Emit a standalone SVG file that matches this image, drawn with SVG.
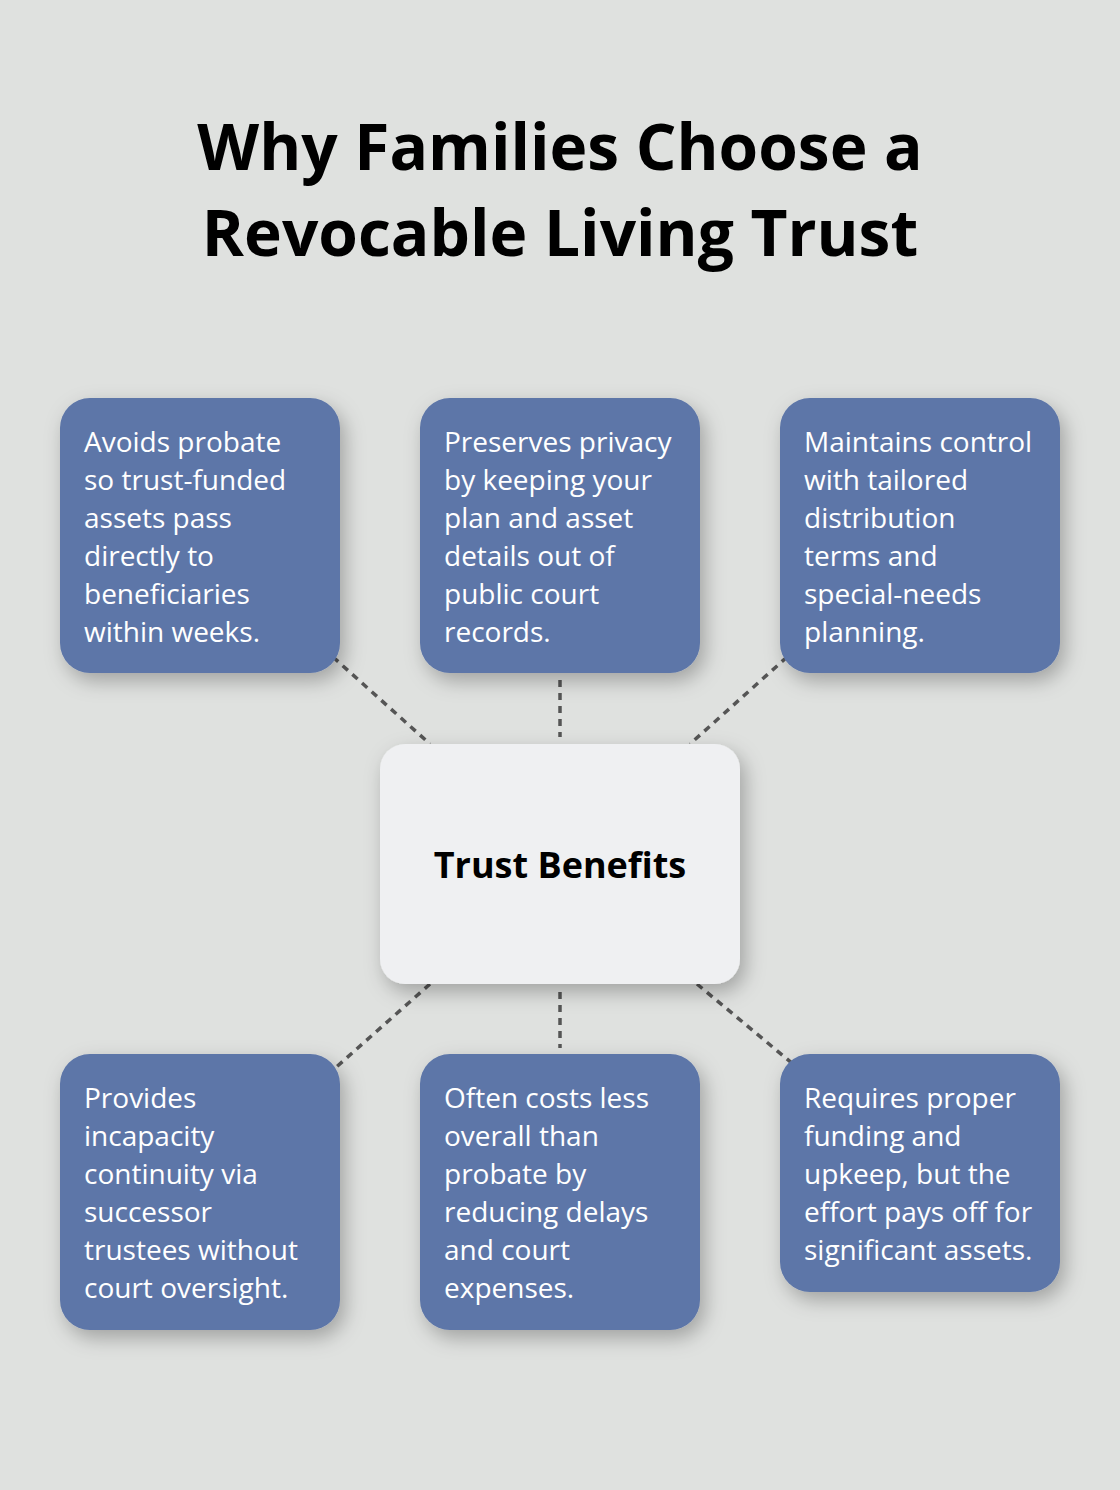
<svg xmlns="http://www.w3.org/2000/svg" width="1120" height="1490" viewBox="0 0 1120 1490">
<style>
.box{fill:#5d76a8;filter:url(#sh)}
.center{fill:#eff0f2;filter:url(#sh)}
.t{font-family:"Open Sans","Noto Sans",sans-serif;font-size:28px;fill:#ffffff}
.title{font-family:"Open Sans","Noto Sans",sans-serif;font-size:64px;font-weight:bold;fill:#000;text-anchor:middle}
.ct{font-family:"Open Sans","Noto Sans",sans-serif;font-size:36px;font-weight:bold;fill:#000;text-anchor:middle}
.con{stroke:#555;stroke-width:3.5;stroke-dasharray:7 6;fill:none}
</style>
<defs>
<filter id="sh" x="-25%" y="-25%" width="160%" height="160%">
<feDropShadow dx="5" dy="8" stdDeviation="10" flood-color="#000" flood-opacity="0.28"/>
</filter>
</defs>
<rect width="1120" height="1490" fill="#dfe1df"/>
<text class="title" x="560" y="170">Why Families Choose a</text>
<text class="title" x="560" y="256">Revocable Living Trust</text>
<g id="connectors">
<line class="con" x1="333" y1="657" x2="430" y2="744"/>
<line class="con" x1="560" y1="680" x2="560" y2="737"/>
<line class="con" x1="787" y1="657" x2="690" y2="744"/>
<line class="con" x1="430" y1="984" x2="333" y2="1070"/>
<line class="con" x1="560" y1="992" x2="560" y2="1048"/>
<line class="con" x1="697" y1="984" x2="793" y2="1064"/>
</g>
<g id="n1">
<rect class="box" x="60" y="398" width="280" height="275" rx="30"/>
<text class="t" x="84" y="452">Avoids probate</text>
<text class="t" x="84" y="490">so trust-funded</text>
<text class="t" x="84" y="528">assets pass</text>
<text class="t" x="84" y="566">directly to</text>
<text class="t" x="84" y="604">beneficiaries</text>
<text class="t" x="84" y="642">within weeks.</text>
</g>
<g id="n2">
<rect class="box" x="420" y="398" width="280" height="275" rx="30"/>
<text class="t" x="444" y="452">Preserves privacy</text>
<text class="t" x="444" y="490">by keeping your</text>
<text class="t" x="444" y="528">plan and asset</text>
<text class="t" x="444" y="566">details out of</text>
<text class="t" x="444" y="604">public court</text>
<text class="t" x="444" y="642">records.</text>
</g>
<g id="n3">
<rect class="box" x="780" y="398" width="280" height="275" rx="30"/>
<text class="t" x="804" y="452">Maintains control</text>
<text class="t" x="804" y="490">with tailored</text>
<text class="t" x="804" y="528">distribution</text>
<text class="t" x="804" y="566">terms and</text>
<text class="t" x="804" y="604">special-needs</text>
<text class="t" x="804" y="642">planning.</text>
</g>
<g id="center">
<rect class="center" x="380" y="744" width="360" height="240" rx="25"/>
<text class="ct" x="560" y="878">Trust Benefits</text>
</g>
<g id="n4">
<rect class="box" x="60" y="1054" width="280" height="276" rx="30"/>
<text class="t" x="84" y="1108">Provides</text>
<text class="t" x="84" y="1146">incapacity</text>
<text class="t" x="84" y="1184">continuity via</text>
<text class="t" x="84" y="1222">successor</text>
<text class="t" x="84" y="1260">trustees without</text>
<text class="t" x="84" y="1298">court oversight.</text>
</g>
<g id="n5">
<rect class="box" x="420" y="1054" width="280" height="276" rx="30"/>
<text class="t" x="444" y="1108">Often costs less</text>
<text class="t" x="444" y="1146">overall than</text>
<text class="t" x="444" y="1184">probate by</text>
<text class="t" x="444" y="1222">reducing delays</text>
<text class="t" x="444" y="1260">and court</text>
<text class="t" x="444" y="1298">expenses.</text>
</g>
<g id="n6">
<rect class="box" x="780" y="1054" width="280" height="238" rx="30"/>
<text class="t" x="804" y="1108">Requires proper</text>
<text class="t" x="804" y="1146">funding and</text>
<text class="t" x="804" y="1184">upkeep, but the</text>
<text class="t" x="804" y="1222">effort pays off for</text>
<text class="t" x="804" y="1260">significant assets.</text>
</g>
</svg>
